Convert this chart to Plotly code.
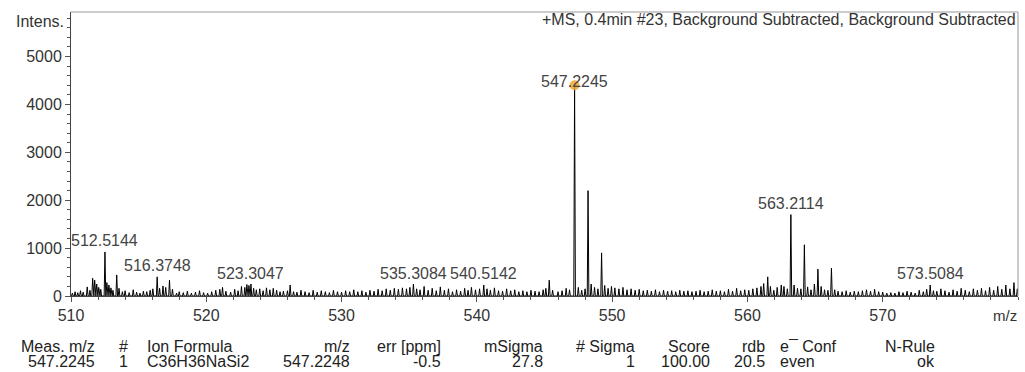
import plotly.graph_objects as go

# ---------------- data ----------------
peak_mz = [
    510.1, 510.3, 510.5, 510.7, 510.9, 511.2, 511.4, 511.6, 511.75, 511.9, 512.05, 512.2,
    512.51, 512.65, 512.8, 512.95, 513.1, 513.38, 513.55, 513.8, 514.0, 514.3, 514.6, 514.85,
    515.1, 515.35, 515.6, 515.85, 516.05, 516.37, 516.55, 516.8, 517.0, 517.28, 517.5, 517.8,
    518.0, 518.3, 518.6, 518.9, 519.2, 519.5, 519.8, 520.1, 520.4, 520.7, 521.0, 521.2,
    521.45, 521.8, 522.1, 522.35, 522.6, 522.85, 523.0, 523.15, 523.3, 523.5, 523.7, 523.95,
    524.2, 524.45, 524.7, 524.95, 525.2, 525.45, 525.7, 526.0, 526.2, 526.45, 526.7, 527.0,
    527.3, 527.6, 527.9, 528.2, 528.5, 528.8, 529.1, 529.4, 529.7, 530.0, 530.3, 530.6,
    530.9, 531.2, 531.5, 531.8, 532.1, 532.4, 532.7, 533.0, 533.3, 533.6, 533.9, 534.2,
    534.5, 534.8, 535.05, 535.31, 535.55, 535.8, 536.1, 536.4, 536.7, 537.0, 537.3, 537.6,
    537.9, 538.2, 538.5, 538.8, 539.1, 539.35, 539.6, 539.9, 540.2, 540.51, 540.75, 541.0,
    541.3, 541.6, 541.9, 542.2, 542.5, 542.8, 543.1, 543.4, 543.7, 544.0, 544.3, 544.6,
    544.9, 545.1, 545.35, 545.6, 546.0, 546.3, 546.6, 546.85, 547.2245, 547.5, 547.75, 548.0,
    548.22, 548.45, 548.7, 548.95, 549.22, 549.45, 549.7, 549.95, 550.2, 550.5, 550.8, 551.1,
    551.4, 551.7, 552.0, 552.3, 552.6, 552.9, 553.2, 553.5, 553.8, 554.1, 554.4, 554.7,
    555.0, 555.3, 555.6, 555.9, 556.2, 556.5, 556.8, 557.1, 557.4, 557.7, 558.0, 558.3,
    558.6, 558.9, 559.2, 559.5, 559.8, 560.1, 560.4, 560.7, 561.0, 561.2, 561.5, 561.7,
    561.95, 562.2, 562.5, 562.7, 562.95, 563.2114, 563.45, 563.7, 563.95, 564.21, 564.45, 564.7,
    564.95, 565.21, 565.45, 565.7, 565.95, 566.21, 566.45, 566.7, 567.0, 567.3, 567.6, 567.9,
    568.2, 568.5, 568.8, 569.1, 569.4, 569.7, 570.0, 570.3, 570.6, 570.9, 571.2, 571.5,
    571.8, 572.1, 572.4, 572.7, 573.0, 573.25, 573.51, 573.75, 574.0, 574.3, 574.6, 574.9,
    575.2, 575.5, 575.8, 576.1, 576.4, 576.7, 577.0, 577.3, 577.6, 577.9, 578.2, 578.5,
    578.8, 579.1, 579.4, 579.7, 579.95,
]
peak_int = [
    60, 90, 70, 110, 80, 190, 120, 370, 330, 250, 180, 140,
    920, 280, 230, 170, 120, 440, 160, 90, 110, 70, 130, 80,
    60, 100, 90, 120, 150, 400, 160, 210, 180, 330, 140, 60,
    90, 70, 100, 60, 80, 110, 70, 60, 90, 120, 140, 180,
    100, 80, 140, 110, 200, 180, 240, 220, 250, 160, 130, 150,
    110, 170, 130, 160, 120, 90, 100, 110, 230, 90, 80, 120,
    90, 70, 120, 80, 110, 90, 70, 120, 90, 80, 110, 90,
    130, 90, 110, 80, 120, 100, 140, 110, 150, 120, 160, 140,
    170, 150, 180, 250, 150, 130, 200, 120, 160, 110, 190, 120,
    150, 90, 130, 100, 160, 120, 180, 130, 150, 230, 150, 120,
    170, 110, 100, 150, 110, 130, 90, 110, 90, 120, 100, 90,
    130, 160, 330, 120, 90, 110, 160, 130, 4400, 180, 120, 150,
    2200, 250, 180, 150, 900, 220, 160, 200, 170, 150, 180, 130,
    150, 120, 140, 110, 120, 100, 130, 90, 120, 100, 110, 90,
    120, 100, 110, 90, 100, 120, 90, 100, 130, 100, 110, 90,
    140, 100, 160, 110, 130, 120, 150, 170, 200, 260, 400, 200,
    120, 180, 230, 200, 150, 1700, 230, 160, 150, 1070, 190, 130,
    250, 560, 200, 130, 120, 580, 130, 100, 90, 110, 80, 100,
    90, 110, 130, 100, 140, 90, 80, 60, 70, 60, 90, 70,
    100, 80, 60, 120, 90, 140, 230, 110, 100, 150, 110, 80,
    130, 100, 160, 120, 90, 150, 120, 160, 110, 180, 120, 200,
    140, 230, 150, 280, 150,
]

label_mz = [512.51, 516.37, 523.30, 535.31, 540.51, 547.2245, 563.2114, 573.51]
label_int = [920, 400, 250, 250, 230, 4400, 1700, 230]
label_text = ["512.5144", "516.3748", "523.3047", "535.3084", "540.5142",
              "547.2245", "563.2114", "573.5084"]

x_ticks = [510, 520, 530, 540, 550, 560, 570]
y_ticks = [0, 1000, 2000, 3000, 4000, 5000]

table_header = ["Meas. m/z", "#", "Ion Formula", "m/z", "err [ppm]", "mSigma",
                "# Sigma", "Score", "rdb", "e\u00af Conf", "N-Rule"]
table_values = ["547.2245", "1", "C36H36NaSi2", "547.2248", "-0.5", "27.8",
                "1", "100.00", "20.5", "even", "ok"]

# ---------------- layout geometry (pixels) ----------------
W, H = 1025, 372
L, R, T, B = 71, 7, 12, 76
PW, PH = W - L - R, H - T - B


def px_x(px):
    return (px - L) / PW


def px_y(py):
    return (H - B - py) / PH


FONT = "Liberation Sans, Arial, sans-serif"
TXT = "#333333"

# profile-like trace built from the peak list
hw = 0.06
xs, ys = [], []
for m, h in sorted(zip(peak_mz, peak_int)):
    xs += [m - hw, m, m + hw]
    ys += [0, h, 0]

fig = go.Figure()
fig.add_trace(go.Scatter(x=xs, y=ys, mode="lines",
                         line=dict(color="black", width=1), hoverinfo="skip",
                         showlegend=False))
fig.add_trace(go.Scatter(x=[label_mz[5]], y=[label_int[5]], mode="markers",
                         marker=dict(color="rgba(240,165,50,0.85)", size=10),
                         showlegend=False))

annotations = []
for m, h, t in zip(label_mz, label_int, label_text):
    annotations.append(dict(x=m, y=h, xref="x", yref="y", text=t, showarrow=False,
                            yanchor="middle", yshift=4 if t == "547.2245" else 11,
                            font=dict(family=FONT, size=16, color="#444444")))

annotations.append(dict(x=px_x(1018), y=px_y(20), xref="paper", yref="paper",
                        text="+MS, 0.4min #23, Background Subtracted, Background Subtracted",
                        showarrow=False, xanchor="right", yanchor="middle",
                        font=dict(family=FONT, size=16, color=TXT)))
annotations.append(dict(x=px_x(66), y=px_y(22), xref="paper", yref="paper",
                        text="Intens.", showarrow=False, xanchor="right", yanchor="middle",
                        font=dict(family=FONT, size=16, color=TXT)))
annotations.append(dict(x=px_x(1019), y=px_y(315), xref="paper", yref="paper",
                        text="m/z", showarrow=False, xanchor="right", yanchor="middle",
                        font=dict(family=FONT, size=15, color=TXT)))

# table column positions: (pixel x, anchor)
cols = [(97, "right"), (123, "center"), (145, "left"), (352, "right"), (443, "right"),
        (545, "right"), (637, "right"), (712, "right"), (767, "right"), (778, "left"),
        (937, "right")]
for (cx, anc), hd, val in zip(cols, table_header, table_values):
    annotations.append(dict(x=px_x(cx), y=px_y(346), xref="paper", yref="paper", text=hd,
                            showarrow=False, xanchor=anc, yanchor="middle",
                            font=dict(family=FONT, size=16, color="#222222")))
    annotations.append(dict(x=px_x(cx), y=px_y(361), xref="paper", yref="paper", text=val,
                            showarrow=False, xanchor=anc, yanchor="middle",
                            font=dict(family=FONT, size=16, color="#222222")))

fig.update_layout(
    width=W, height=H,
    margin=dict(l=L, r=R, t=T, b=B, pad=0),
    paper_bgcolor="white", plot_bgcolor="white",
    annotations=annotations,
    shapes=[
        dict(type="line", xref="paper", yref="paper", x0=0, x1=1, y0=1, y1=1,
             line=dict(color="#999999", width=1)),
        dict(type="line", xref="paper", yref="paper", x0=1, x1=1, y0=0, y1=1,
             line=dict(color="#999999", width=1)),
    ],
    xaxis=dict(range=[510, 580], tickvals=x_ticks, ticks="outside", ticklen=5,
               tickcolor="#555555", showline=True, linecolor="#444444", linewidth=1,
               showgrid=False, zeroline=False,
               tickfont=dict(family=FONT, size=16, color=TXT),
               minor=dict(dtick=2, ticks="outside", ticklen=3, tickcolor="#555555")),
    yaxis=dict(range=[0, 5930], tickvals=y_ticks, ticks="outside", ticklen=5,
               tickcolor="#555555", showline=True, linecolor="#444444", linewidth=1,
               showgrid=False, zeroline=False,
               tickfont=dict(family=FONT, size=16, color=TXT),
               minor=dict(dtick=200, ticks="outside", ticklen=3, tickcolor="#555555")),
)

fig.write_html("out.html")
